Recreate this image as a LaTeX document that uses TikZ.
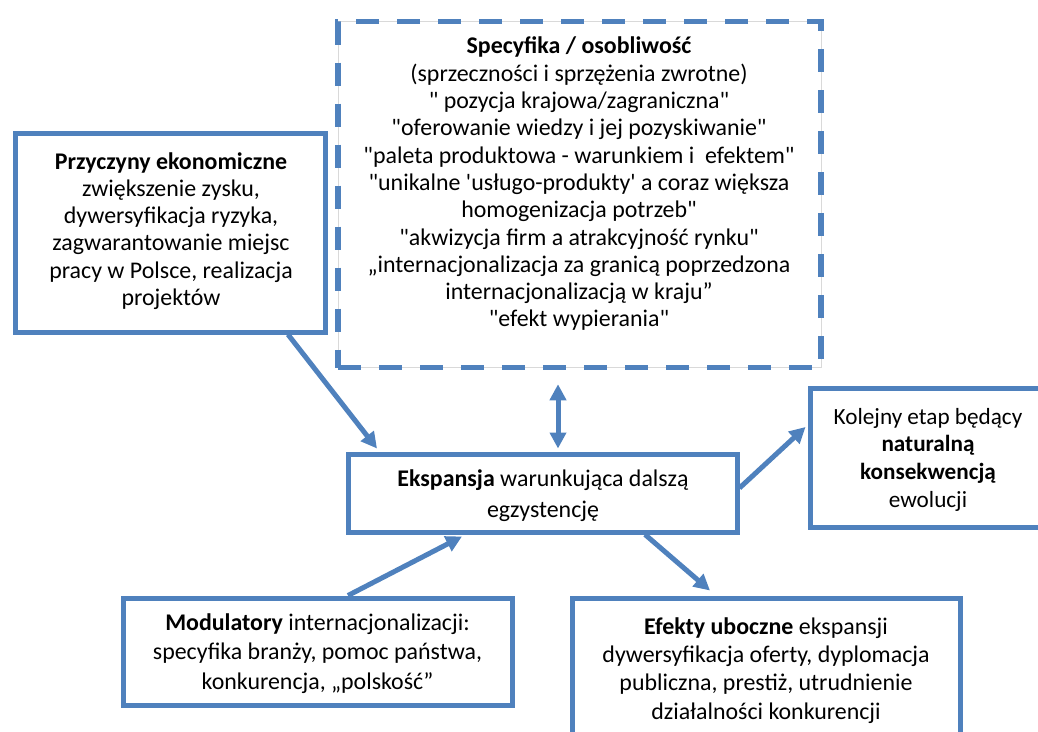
\documentclass[tikz,border=0pt]{standalone}
\usepackage{fontspec}
\setmainfont{Carlito}[Ligatures=TeXOff]
\usetikzlibrary{arrows.meta,calc}
\definecolor{ofblue}{HTML}{4F81BD}
\begin{document}
\begin{tikzpicture}[x=1pt,y=-1pt,
  frame/.style={draw=ofblue, line width=5pt, inner sep=0pt},
  dashframe/.style={frame, line width=5.5pt, dash pattern=on 23pt off 18pt,
    preaction={draw=gray!30, line width=1pt, solid}},
  txt/.style={align=center, inner sep=0pt, text=black,
    font=\fontsize{23.9}{27.3}\selectfont},
  arr/.style={draw=ofblue, line width=5pt, -{Triangle[length=16pt,width=16pt]}},
  darr/.style={draw=ofblue, line width=5pt, {Triangle[length=16pt,width=16pt]}-{Triangle[length=16pt,width=16pt]}},
]
\useasboundingbox (0,0) rectangle (1038,731);
\clip (0,0) rectangle (1038,731);

% boxes
\node[dashframe, minimum width=483pt, minimum height=346pt] (spec) at (579.5,194.5) {};
\node[frame, minimum width=310pt, minimum height=199pt] (left) at (170,232.5) {};
\node[frame, minimum width=389pt, minimum height=78pt] (ctr) at (542.5,493) {};
\node[frame, minimum width=236pt, minimum height=139pt] (right) at (928,457.5) {};
\node[frame, minimum width=389pt, minimum height=107pt] (bl) at (317.5,651.5) {};
\node[frame, minimum width=388pt, minimum height=147pt] (br) at (766,671.5) {};

% texts
\node[txt] (spect) at (579,184) {\textbf{Specyfika / osobliwość}\\
(sprzeczności i sprzężenia zwrotne)\\
" pozycja krajowa/zagraniczna"\\
"oferowanie wiedzy i jej pozyskiwanie"\\
"paleta produktowa - warunkiem i\ \ efektem"\\
"unikalne 'usługo-produkty' a coraz większa\\
homogenizacja potrzeb"\\
"akwizycja firm a atrakcyjność rynku"\\
„internacjonalizacja za granicą poprzedzona\\
internacjonalizacją w kraju”\\
"efekt wypierania"};
\node[txt] (leftt) at (171,231) {\textbf{Przyczyny ekonomiczne}\\
zwiększenie zysku,\\
dywersyfikacja ryzyka,\\
zagwarantowanie miejsc\\
pracy w Polsce, realizacja\\
projektów};
\node[txt, font=\fontsize{23.9}{31}\selectfont] (ctrt) at (543,496) {\textbf{Ekspansja} warunkująca dalszą\\egzystencję};
\node[txt, font=\fontsize{23.2}{27.7}\selectfont] (rightt) at (928,459.5) {Kolejny etap będący\\\textbf{naturalną}\\\textbf{konsekwencją}\\ewolucji};
\node[txt, font=\fontsize{23.9}{29.5}\selectfont] (blt) at (317.5,653.5) {\textbf{Modulatory} internacjonalizacji:\\
specyfika branży, pomoc państwa,\\
konkurencja, „polskość”};
\node[txt, font=\fontsize{23.9}{28.3}\selectfont] (brt) at (766,670.5) {\textbf{Efekty uboczne} ekspansji\\
dywersyfikacja oferty, dyplomacja\\
publiczna, prestiż, utrudnienie\\
działalności konkurencji};

% connectors
\draw[arr] ([xshift=118pt]left.south) -- ([xshift=-165.5pt,yshift=3pt]ctr.north);
\draw[darr, shorten <=14pt, shorten >=3pt] ([xshift=-21.5pt]spec.south) -- ([xshift=15.5pt]ctr.north);
\draw[arr] ([yshift=5pt]ctr.east) -- ([xshift=-2pt,yshift=30.5pt]right.west);
\draw[arr] ([xshift=30.5pt]bl.north) -- ([xshift=-80.5pt,yshift=-2pt]ctr.south);
\draw[arr] ([xshift=102.5pt]ctr.south) -- ([xshift=-56pt,yshift=5pt]br.north);
\end{tikzpicture}
\end{document}
